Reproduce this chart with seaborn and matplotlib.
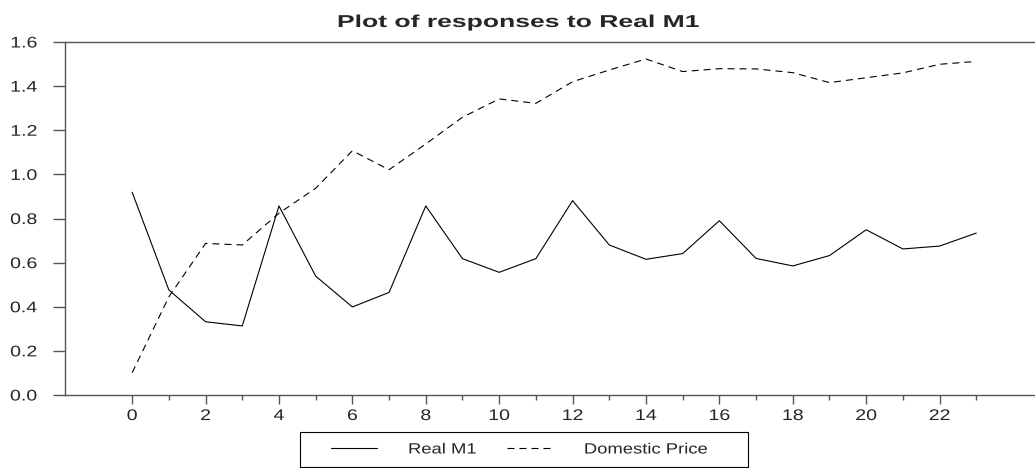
import matplotlib
matplotlib.use("Agg")
import matplotlib.pyplot as plt
import numpy as np
import pandas as pd
import seaborn as sns
from matplotlib.patheffects import AbstractPathEffect
from matplotlib.transforms import Affine2D
from matplotlib.patches import Rectangle
from matplotlib.lines import Line2D
from matplotlib.ticker import FixedLocator, FormatStrFormatter

# ---------------- data ----------------
steps = list(range(24))
real_m1 = [0.919, 0.476, 0.332, 0.313, 0.857, 0.539, 0.399, 0.465, 0.857, 0.618,
           0.556, 0.618, 0.881, 0.680, 0.615, 0.641, 0.790, 0.619, 0.585, 0.632,
           0.749, 0.662, 0.675, 0.734]
domestic_price = [0.101, 0.445, 0.687, 0.680, 0.824, 0.937, 1.107, 1.021, 1.138, 1.259,
                  1.342, 1.322, 1.420, 1.473, 1.523, 1.466, 1.479, 1.478, 1.461, 1.416,
                  1.438, 1.460, 1.499, 1.512]
series_names = ["Real M1", "Domestic Price"]
title_text = "Plot of responses to Real M1"
y_ticks = [0.0, 0.2, 0.4, 0.6, 0.8, 1.0, 1.2, 1.4, 1.6]
x_major = list(range(0, 23, 2))
x_minor = list(range(1, 24, 2))

df = pd.DataFrame({
    "step": steps * 2,
    "value": real_m1 + domestic_price,
    "series": [series_names[0]] * len(steps) + [series_names[1]] * len(steps),
})


class HStretch(AbstractPathEffect):
    """Widen glyphs horizontally around an anchor (the reference font is wide)."""

    def __init__(self, sx=1.25, ha="center"):
        super().__init__()
        self.sx = sx
        self.ha = ha

    def draw_path(self, renderer, gc, tpath, affine, rgbFace=None):
        ext = tpath.get_extents(affine)
        if self.ha == "left":
            a = ext.x0
        elif self.ha == "right":
            a = ext.x1
        else:
            a = 0.5 * (ext.x0 + ext.x1)
        new = affine + Affine2D().translate(-a, 0).scale(self.sx, 1.0).translate(a, 0)
        renderer.draw_path(gc, tpath, new, rgbFace)


sns.set_style("white")
plt.rcParams["font.family"] = ["Liberation Sans", "DejaVu Sans"]

W, H = 1035, 468
fig = plt.figure(figsize=(W / 100, H / 100), dpi=100)
ax = fig.add_axes([65 / W, 1 - 395 / H, (W - 65) / W, 353 / H])

sns.lineplot(data=df, x="step", y="value", style="series", style_order=series_names,
             dashes={series_names[0]: "", series_names[1]: (6.3, 4.5)},
             color="black", linewidth=0.8, legend=False, ax=ax)

ax.set_xlim(-1.83, 24.6)
ax.set_ylim(0, 1.6)
ax.set_xlabel("")
ax.set_ylabel("")

spine_col = "#555555"
for side in ["right"]:
    ax.spines[side].set_visible(False)
for side in ["left", "top", "bottom"]:
    ax.spines[side].set_color(spine_col)
    ax.spines[side].set_linewidth(1.0)

ax.xaxis.set_major_locator(FixedLocator(x_major))
ax.xaxis.set_minor_locator(FixedLocator(x_minor))
ax.yaxis.set_major_locator(FixedLocator(y_ticks))
ax.yaxis.set_major_formatter(FormatStrFormatter("%.1f"))
ax.tick_params(axis="y", which="major", direction="out", length=8.6, width=1.0,
               color=spine_col, pad=11.5, labelsize=11.1, left=True)
ax.tick_params(axis="x", which="major", direction="out", length=6.5, width=1.0,
               color=spine_col, pad=3.6, labelsize=11.1, bottom=True)
ax.tick_params(axis="x", which="minor", direction="out", length=3.6, width=1.0,
               color=spine_col, bottom=True)

for t in ax.get_yticklabels():
    t.set_path_effects([HStretch(1.27, "right")])
for t in ax.get_xticklabels():
    t.set_path_effects([HStretch(1.27, "center")])

ttl = fig.text(518.5 / W, 1 - 27 / H, title_text, ha="center", va="baseline",
               fontsize=12.4, fontweight="bold")
ttl.set_path_effects([HStretch(1.54, "center")])

handles = [
    Line2D([], [], color="black", linewidth=0.8, linestyle="-"),
    Line2D([], [], color="black", linewidth=0.8, linestyle=(0, (6.3, 4.5))),
]
leg = fig.legend(handles, series_names, loc="center left",
                 bbox_to_anchor=(331 / W, 1 - 449.5 / H), ncol=2, frameon=False,
                 borderpad=0, borderaxespad=0, handlelength=3.1, handletextpad=2.1,
                 columnspacing=2.9, fontsize=10.7)
for t in leg.get_texts():
    t.set_path_effects([HStretch(1.24, "left")])

fig.add_artist(Rectangle((300 / W, 1 - 467 / H), 448 / W, 35 / H,
                         transform=fig.transFigure, fill=False, edgecolor="black",
                         linewidth=0.8))

fig.savefig("out.png", dpi=100)
